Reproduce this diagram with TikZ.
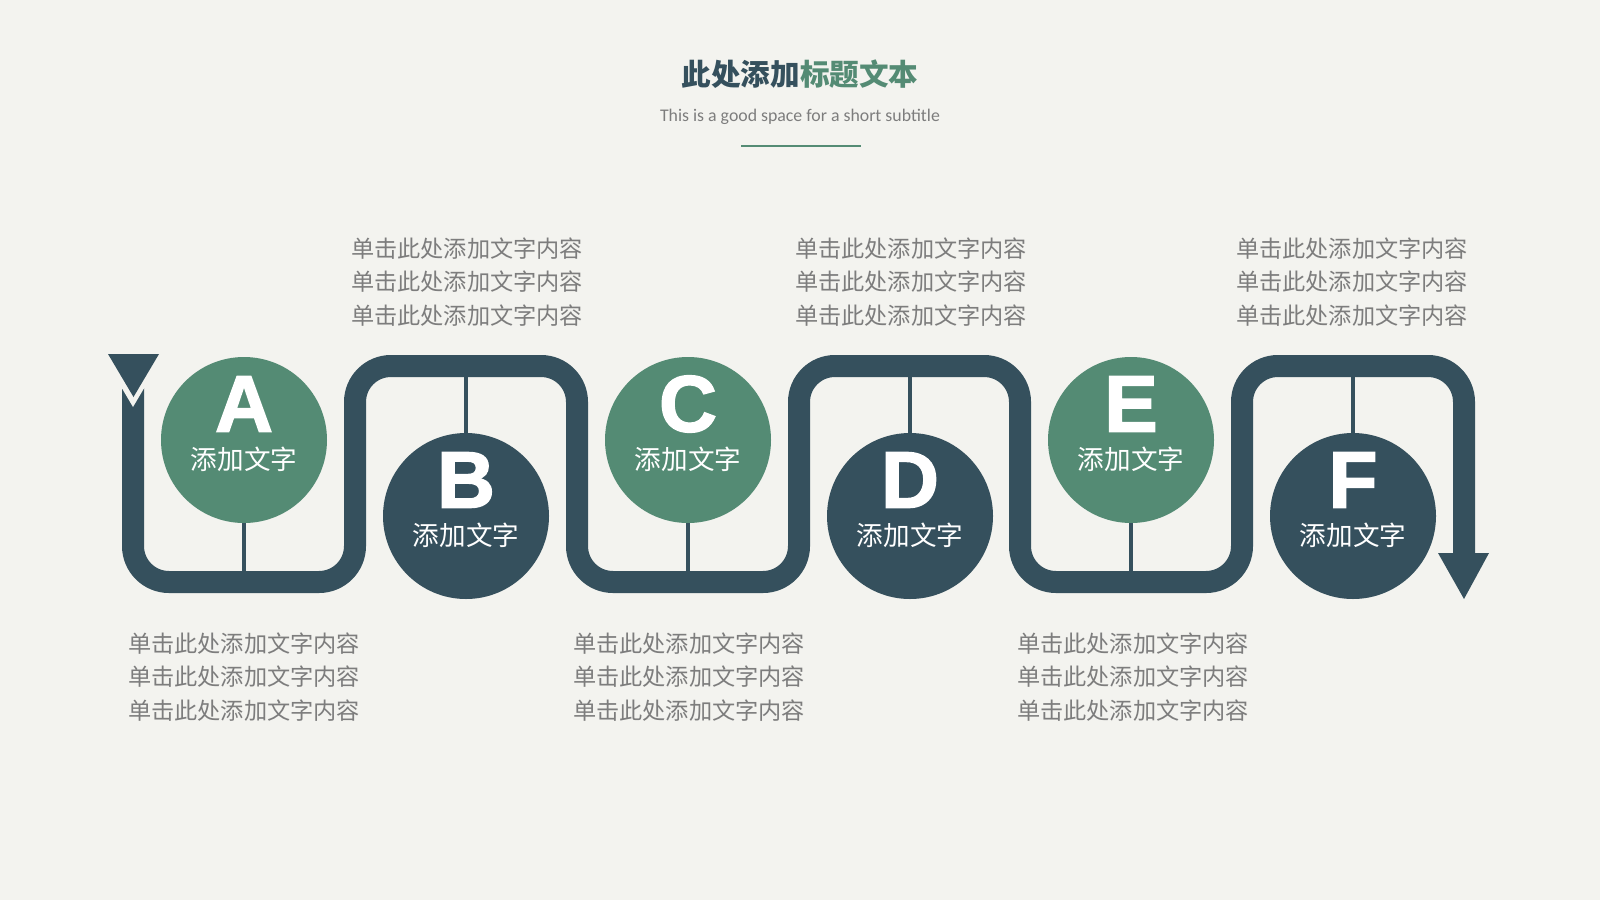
\documentclass[tikz,border=0pt]{standalone}
\usepackage{fontspec}
\setmainfont{Carlito}
\newfontfamily\cjk{Noto Sans CJK SC}
\newfontfamily\heavy{Liberation Sans}[FakeBold=2]
\usepackage{tikz}
\usepackage{xcolor}
\usetikzlibrary{positioning}
\definecolor{darkslate}{RGB}{53,80,93}
\definecolor{sage}{RGB}{84,139,116}
\definecolor{txtgray}{RGB}{125,125,125}
\definecolor{paper}{RGB}{243,243,239}
\newcommand{\notetext}{单击此处添加文字内容\\单击此处添加文字内容\\单击此处添加文字内容}

\begin{document}
\begin{tikzpicture}[x=0.5pt,y=-0.5pt,
  track/.style={draw=darkslate, line width=11pt, rounded corners=18pt},
  stem/.style={draw=darkslate, line width=1.6pt},
  disc/.style={circle, minimum size=83pt, inner sep=0pt},
  letter/.style={text=white, font=\heavy\bfseries\fontsize{40}{40}\selectfont},
  tag/.style={text=white, font=\cjk\fontsize{13.3}{14}\selectfont},
  note/.style={text=txtgray, font=\cjk\fontsize{11.6}{16.6}\selectfont, align=center}]
\fill[paper] (0,0) rectangle (1600,900); % page
% title block
\node[font=\cjk\bfseries\fontsize{14.8}{16}\selectfont] (title) at (800,74)
{\textcolor{darkslate}{此处添加}\textcolor{sage}{标题文本}};
\node[text=txtgray, font=\fontsize{8.9}{10}\selectfont] (subtitle) at (800,117)
{This is a good space for a short subtitle};
\draw[sage, line width=0.7pt] (741,146) -- (861,146);
% track levels
\coordinate (top) at (0,366);
\coordinate (bot) at (0,582);
% circles
\foreach \name/\x/\y/\col in {A/244/440/sage, B/466/516/darkslate,
  C/688/440/sage, D/910/516/darkslate, E/1131/440/sage, F/1353/516/darkslate}
  \node[disc, fill=\col] (\name) at (\x,\y) {};
% stems to the track
\foreach \name in {A,C,E}
  \draw[stem] (\name.south) -- (\name.south |- bot);
\foreach \name in {B,D,F}
  \draw[stem] (\name.north) -- (\name.north |- top);
% the winding track
\draw[track] (133,388) -- (133,582) -- (355,582) -- (355,366) -- (577,366)
  -- (577,582) -- (799,582) -- (799,366) -- (1020,366) -- (1020,582)
  -- (1242,582) -- (1242,366) -- (1464,366) -- (1464,556);
\fill[paper] (97,346) -- (169,346) -- (133,407) -- cycle; % notch
\fill[darkslate] (108,354) -- (159,354) -- (133.5,397) -- cycle; % tail
\fill[darkslate] (1438,553) -- (1489,553) -- (1464,599) -- cycle; % head
% letters and tags
\foreach \name in {A,B,C,D,E,F}{
  \node[letter] (\name l) at ([yshift=18pt]\name.center) {\name};
  \node[tag] (\name t) at ([yshift=-9.5pt]\name.center) {添加文字};
}
% notes
\node[note] (Anote) at (244,677) {\notetext};
\node[note] (Bnote) at (467,282) {\notetext};
\node[note] (Cnote) at (689,677) {\notetext};
\node[note] (Dnote) at (911,282) {\notetext};
\node[note] (Enote) at (1133,677) {\notetext};
\node[note] (Fnote) at (1352,282) {\notetext};
\end{tikzpicture}
\end{document}
